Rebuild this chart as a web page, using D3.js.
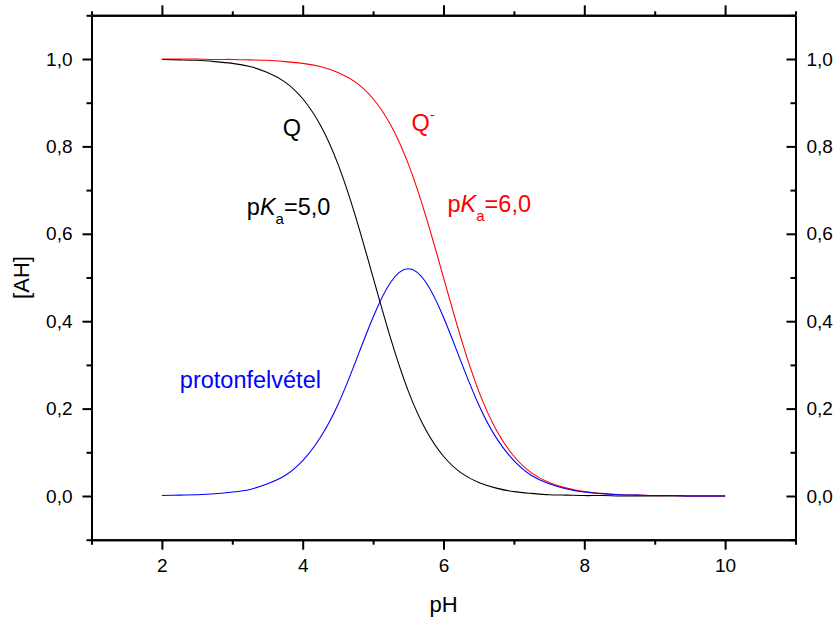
<!DOCTYPE html>
<html>
<head>
<meta charset="utf-8">
<script src="https://cdn.jsdelivr.net/npm/d3@7"></script>
<style>
  html, body { margin: 0; padding: 0; background: #fff; }
  svg { display: block; font-family: "Liberation Sans", Arial, sans-serif; }
</style>
</head>
<body>
<svg id="chart" width="836" height="620"></svg>
<script>
// pH grid the curves were read at
const pH = [2, 2.25, 2.5, 2.75, 3, 3.25, 3.5, 3.75, 4, 4.25, 4.5, 4.75, 5, 5.25, 5.5, 5.75,
  6, 6.25, 6.5, 6.75, 7, 7.25, 7.5, 7.75, 8, 8.25, 8.5, 8.75, 9, 9.25, 9.5, 9.75, 10];

// Q, pKa = 5,0 (black)
const qValues = [0.999, 0.998, 0.997, 0.994, 0.990, 0.983, 0.969, 0.947, 0.909, 0.849, 0.760, 0.640,
  0.500, 0.360, 0.240, 0.151, 0.091, 0.053, 0.031, 0.018, 0.010, 0.006, 0.003, 0.002,
  0.001, 0.001, 0.000, 0.000, 0.000, 0.000, 0.000, 0.000, 0.000];

// Q-, pKa = 6,0 (red)
const qMinusValues = [1.000, 1.000, 1.000, 0.999, 0.999, 0.998, 0.997, 0.994, 0.990, 0.983, 0.969, 0.947,
  0.909, 0.849, 0.760, 0.640, 0.500, 0.360, 0.240, 0.151, 0.091, 0.053, 0.031, 0.018,
  0.010, 0.006, 0.003, 0.002, 0.001, 0.001, 0.000, 0.000, 0.000];

// protonfelvétel (blue)
const protonValues = [0.001, 0.002, 0.003, 0.005, 0.009, 0.015, 0.028, 0.047, 0.081, 0.134, 0.209, 0.307,
  0.409, 0.489, 0.520, 0.489, 0.409, 0.307, 0.209, 0.133, 0.081, 0.047, 0.028, 0.016,
  0.009, 0.005, 0.003, 0.002, 0.001, 0.001, 0.000, 0.000, 0.000];

const xMajorTicks = [2, 4, 6, 8, 10];
const xMinorTicks = [1, 3, 5, 7, 9, 11];
const yMajorTicks = [0, 0.2, 0.4, 0.6, 0.8, 1.0];
const yMinorTicks = [-0.1, 0.1, 0.3, 0.5, 0.7, 0.9, 1.1];

const series = [
  { name: "Q", values: qValues, color: "#000000" },
  { name: "Q-", values: qMinusValues, color: "#ff0000" },
  { name: "protonfelvétel", values: protonValues, color: "#0000ff" }
];

const svg = d3.select("#chart");
const margin = { left: 91.5, right: 40.5, top: 15.3, bottom: 80.3 };
const width = 836 - margin.left - margin.right;
const height = 620 - margin.top - margin.bottom;

const x = d3.scaleLinear().domain([1, 11]).range([0, width]);
const y = d3.scaleLinear().domain([-0.1, 1.1]).range([height, 0]);

const g = svg.append("g").attr("transform", `translate(${margin.left},${margin.top})`);

const comma = (fmt) => (d) => d3.format(fmt)(d).replace(".", ",");

function styleAxis(sel) {
  sel.selectAll("path.domain").attr("stroke", "#000").attr("stroke-width", 2);
  sel.selectAll(".tick line").attr("stroke", "#000").attr("stroke-width", 2);
  sel.selectAll(".tick text").attr("fill", "#000").attr("font-size", 19)
    .attr("font-family", '"Liberation Sans", Arial, sans-serif');
}

// bottom
g.append("g").attr("transform", `translate(0,${height})`)
  .call(d3.axisBottom(x).tickValues(xMinorTicks).tickFormat("").tickSize(5).tickSizeOuter(0))
  .call(styleAxis);
g.append("g").attr("transform", `translate(0,${height})`)
  .call(d3.axisBottom(x).tickValues(xMajorTicks).tickFormat(d3.format("d")).tickSize(10).tickPadding(9).tickSizeOuter(0))
  .call(styleAxis);

// top
g.append("g")
  .call(d3.axisTop(x).tickValues(xMinorTicks).tickFormat("").tickSize(4).tickSizeOuter(0))
  .call(styleAxis);
g.append("g")
  .call(d3.axisTop(x).tickValues(xMajorTicks).tickFormat("").tickSize(10).tickSizeOuter(0))
  .call(styleAxis);

// left
g.append("g")
  .call(d3.axisLeft(y).tickValues(yMinorTicks).tickFormat("").tickSize(5).tickSizeOuter(0))
  .call(styleAxis);
g.append("g")
  .call(d3.axisLeft(y).tickValues(yMajorTicks).tickFormat(comma(".1f")).tickSize(9).tickPadding(10).tickSizeOuter(0))
  .call(styleAxis);

// right, ticks pointing inward
g.append("g").attr("transform", `translate(${width},0)`)
  .call(d3.axisRight(y).tickValues(yMinorTicks).tickFormat("").tickSizeInner(-5).tickSizeOuter(0))
  .call(styleAxis);
g.append("g").attr("transform", `translate(${width},0)`)
  .call(d3.axisRight(y).tickValues(yMajorTicks).tickFormat(comma(".1f")).tickSizeInner(-9).tickSizeOuter(0).tickPadding(11))
  .call(styleAxis);

// curves
const line = d3.line()
  .x((d, i) => x(pH[i]))
  .y(d => y(d))
  .curve(d3.curveNatural);

g.append("g").selectAll("path.curve")
  .data(series)
  .join("path")
  .attr("class", "curve")
  .attr("fill", "none")
  .attr("stroke", d => d.color)
  .attr("stroke-width", 1.1)
  .attr("d", d => line(d.values));

// axis titles
svg.append("text")
  .attr("x", margin.left + x(6))
  .attr("y", 612)
  .attr("text-anchor", "middle")
  .attr("font-size", 22)
  .text("pH");

svg.append("text")
  .attr("transform", `translate(29,${margin.top + y(0.5)}) rotate(-90)`)
  .attr("text-anchor", "middle")
  .attr("font-size", 22)
  .text("[AH]");

// annotations
const annFont = 23.5;

function pka(sel, value) {
  sel.append("tspan").text("p");
  sel.append("tspan").attr("font-style", "italic").text("K");
  sel.append("tspan").attr("font-size", 15).attr("dy", 9).text("a");
  sel.append("tspan").attr("dy", -9).text("=" + value);
}

g.append("text")
  .attr("x", x(3.716)).attr("y", y(0.824))
  .attr("font-size", annFont).attr("fill", "#000")
  .text("Q");

const qm = g.append("text")
  .attr("x", x(5.546)).attr("y", y(0.835))
  .attr("font-size", annFont).attr("fill", "#ff0000");
qm.append("tspan").text("Q");
qm.append("tspan").attr("font-size", 15).attr("dy", -11).text("-");

g.append("text")
  .attr("x", x(3.206)).attr("y", y(0.643))
  .attr("font-size", annFont).attr("fill", "#000")
  .call(pka, "5,0");

g.append("text")
  .attr("x", x(6.057)).attr("y", y(0.650))
  .attr("font-size", annFont).attr("fill", "#ff0000")
  .call(pka, "6,0");

g.append("text")
  .attr("x", x(2.255)).attr("y", y(0.247))
  .attr("font-size", annFont).attr("fill", "#0000ff")
  .text("protonfelvétel");
</script>
</body>
</html>
